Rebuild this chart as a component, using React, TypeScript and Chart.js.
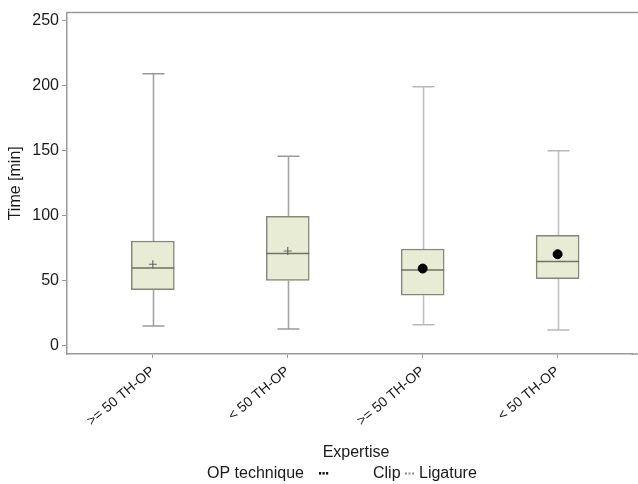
import React, { useEffect, useRef } from "react";
import { Chart, registerables } from "chart.js";
Chart.register(...registerables);

const categories = [">= 50 TH-OP", "< 50 TH-OP", ">= 50 TH-OP", "< 50 TH-OP"];
const positions = [1, 2, 3, 4];
const techniques = ["Ligature", "Ligature", "Clip", "Clip"];
const whiskerLow = [15, 12.7, 16, 11.9];
const q1 = [43, 50, 38.7, 51.5];
const median = [59.7, 70.7, 58.1, 64.6];
const q3 = [80.4, 99.3, 74.2, 84.7];
const whiskerHigh = [209, 145.5, 199, 149.8];
const means = [62.5, 72.7, 59.2, 70.2];
const yTickValues = [0, 50, 100, 150, 200, 250];

const FONT = "'Liberation Sans', Arial, sans-serif";
const TEXT = "#1a1a1a";
const AXIS = "#9a9a9a";
const BOX_FILL = "rgb(232,236,212)";
const BOX_BORDER = "#86867a";
const MEDIAN = "#6f6f62";

const boxPlugin = {
  id: "boxWhiskers",
  beforeDatasetsDraw(chart: any) {
    const { ctx, scales } = chart;
    const xs = scales.x, ys = scales.y;
    ctx.save();
    positions.forEach((p, i) => {
      const x = Math.round(xs.getPixelForValue(p)) + 0.5;
      const color = techniques[i] === "Clip" ? "#c2c2c2" : "#a3a3a3";
      ctx.strokeStyle = color;
      ctx.lineWidth = 1.6;
      ctx.beginPath();
      ctx.moveTo(x, ys.getPixelForValue(whiskerLow[i]));
      ctx.lineTo(x, ys.getPixelForValue(q1[i]));
      ctx.moveTo(x, ys.getPixelForValue(q3[i]));
      ctx.lineTo(x, ys.getPixelForValue(whiskerHigh[i]));
      ctx.stroke();
      const capColor = techniques[i] === "Clip" ? "#b8b8b8" : "#9a9a9a";
      ctx.strokeStyle = capColor;
      ctx.beginPath();
      const half = 11;
      ctx.moveTo(x - half, ys.getPixelForValue(whiskerLow[i]));
      ctx.lineTo(x + half, ys.getPixelForValue(whiskerLow[i]));
      ctx.moveTo(x - half, ys.getPixelForValue(whiskerHigh[i]));
      ctx.lineTo(x + half, ys.getPixelForValue(whiskerHigh[i]));
      ctx.stroke();
    });
    ctx.restore();
  },
  afterDatasetDraw(chart: any, args: any) {
    if (args.index !== 0) return;
    const { ctx, scales } = chart;
    const xs = scales.x, ys = scales.y;
    ctx.save();
    ctx.strokeStyle = MEDIAN;
    ctx.lineWidth = 1.5;
    positions.forEach((p, i) => {
      const x = xs.getPixelForValue(p);
      const y = ys.getPixelForValue(median[i]);
      ctx.beginPath();
      ctx.moveTo(x - 21.5, y);
      ctx.lineTo(x + 21.5, y);
      ctx.stroke();
    });
    ctx.restore();
  },
  afterDraw(chart: any) {
    const { ctx, chartArea } = chart;
    ctx.save();
    ctx.strokeStyle = AXIS;
    ctx.lineWidth = 1.5;
    ctx.beginPath();
    ctx.moveTo(chartArea.left, chartArea.top);
    ctx.lineTo(chart.width, chartArea.top);
    ctx.moveTo(chartArea.right - 1, chartArea.bottom);
    ctx.lineTo(chart.width, chartArea.bottom);
    ctx.stroke();

    ctx.fillStyle = TEXT;
    ctx.font = `16px ${FONT}`;
    ctx.textBaseline = "middle";
    ctx.textAlign = "center";
    ctx.fillText("Expertise", 356, 453);
    ctx.textAlign = "left";
    ctx.fillText("OP technique", 207, 474);
    ctx.fillText("Clip", 373, 474);
    ctx.fillText("Ligature", 419, 474);
    ctx.fillStyle = "#111";
    [319, 322.5, 326].forEach((x) => ctx.fillRect(x, 472, 2.2, 2.6));
    ctx.fillStyle = "#8f8f8f";
    [405, 408.5, 412].forEach((x) => ctx.fillRect(x, 472.5, 2, 2));
    ctx.restore();
  },
};

export default function App() {
  const ref = useRef<HTMLCanvasElement | null>(null);
  useEffect(() => {
    if (!ref.current) return;
    Chart.defaults.font.family = FONT;
    const chart = new Chart(ref.current, {
      type: "bar",
      data: {
        datasets: [
          {
            type: "bar",
            label: "Box",
            data: positions.map((p, i) => ({ x: p, y: [q1[i], q3[i]] })) as any,
            backgroundColor: BOX_FILL,
            borderColor: BOX_BORDER,
            borderWidth: 1.5,
            borderSkipped: false,
            barThickness: 43,
            order: 2,
          } as any,
          {
            type: "scatter",
            label: "Ligature",
            data: positions
              .map((p, i) => ({ x: p, y: means[i], t: techniques[i] }))
              .filter((d) => d.t === "Ligature"),
            pointStyle: "cross",
            pointRadius: 4,
            borderColor: "#666",
            borderWidth: 1.2,
            order: 1,
          } as any,
          {
            type: "scatter",
            label: "Clip",
            data: positions
              .map((p, i) => ({ x: p, y: means[i], t: techniques[i] }))
              .filter((d) => d.t === "Clip"),
            pointStyle: "circle",
            pointRadius: 4.5,
            backgroundColor: "#000",
            borderColor: "#000",
            borderWidth: 1,
            order: 0,
          } as any,
        ],
      },
      options: {
        responsive: false,
        animation: false,
        layout: { padding: { left: 0, top: 12, right: 0, bottom: 0 } },
        plugins: { legend: { display: false }, tooltip: { enabled: false } },
        scales: {
          x: {
            type: "linear",
            min: 0.364,
            max: 4.555,
            offset: false,
            afterBuildTicks: (s: any) => {
              s.ticks = positions.map((v) => ({ value: v }));
            },
            afterFit: (s: any) => {
              s.height = 130;
            },
            ticks: {
              callback: (v: any) => {
                const idx = positions.indexOf(Number(v));
                return idx >= 0 ? categories[idx] : "";
              },
              minRotation: 40,
              maxRotation: 40,
              autoSkip: false,
              font: { size: 14, family: FONT },
              color: TEXT,
              padding: 5,
            },
            grid: { display: true, offset: false, drawOnChartArea: false, drawTicks: true, tickLength: 4, color: AXIS },
            border: { display: true, color: AXIS, width: 1.5 },
          },
          y: {
            type: "linear",
            min: -6.5,
            max: 256,
            afterBuildTicks: (s: any) => {
              s.ticks = yTickValues.map((v) => ({ value: v }));
            },
            afterFit: (s: any) => {
              s.width = 67;
            },
            ticks: { font: { size: 16, family: FONT }, color: TEXT, padding: 3 },
            grid: { display: true, drawOnChartArea: false, drawTicks: true, tickLength: 5, color: AXIS },
            border: { display: true, color: AXIS, width: 1.5 },
            title: {
              display: true,
              text: "Time [min]",
              font: { size: 16, family: FONT },
              color: TEXT,
              padding: { top: 6, bottom: 0 },
            },
          },
        },
      },
      plugins: [boxPlugin],
    });
    return () => chart.destroy();
  }, []);
  return (
    <div style={{ position: "fixed", left: 0, top: 0, width: 638, height: 484, background: "#fff", overflow: "hidden" }}>
      <canvas ref={ref} width={638} height={484} />
    </div>
  );
}
